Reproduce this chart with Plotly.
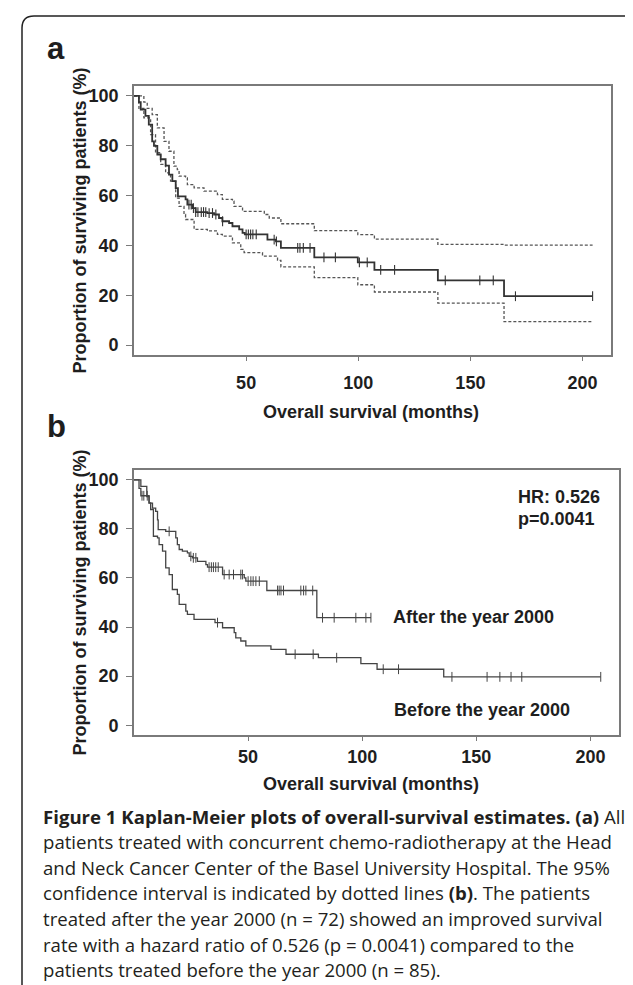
import numpy as np
import plotly.graph_objects as go

W, H = 633, 985

# ---------------- data: panel a (all patients, KM with 95% CI) ----------------
a_time = [0, 2.2, 3.0, 5.1, 6.6, 8.1, 8.9, 10.4, 11.9, 14.1, 15.6, 17.1, 18.6, 19.6, 23.0, 23.8, 26.0, 27.5,
          32.7, 35.7, 37.9, 39.4, 42.4, 43.9, 46.9, 48.4, 49.4, 59.5, 63.3, 65.5, 80.4, 99.8, 107.2, 135.5,
          165.0, 204.5]
a_surv = [100, 97.5, 94.5, 92.0, 88.5, 81.8, 80.0, 76.5, 74.6, 72.0, 68.4, 65.8, 63.0, 59.7, 58.5, 56.4, 55.0,
          53.4, 53.0, 52.4, 51.0, 49.7, 49.0, 47.7, 46.4, 45.0, 44.4, 42.3, 41.6, 39.0, 35.2, 33.2, 30.2, 26.0,
          19.6, 19.6]
a_up_time = [0, 4.4, 5.9, 8.1, 10.4, 13.4, 15.6, 17.8, 19.3, 20.1, 23.0, 23.8, 26.8, 31.2, 37.2, 39.4, 43.9,
             44.6, 48.4, 58.1, 60.3, 65.5, 80.4, 99.8, 107.2, 135.5, 165.0, 204.5]
a_up = [100, 97.5, 95.0, 92.5, 87.2, 81.8, 77.8, 71.8, 70.4, 67.8, 67.1, 64.4, 63.1, 61.8, 60.4, 58.5, 57.8,
        55.7, 53.7, 52.4, 51.0, 48.7, 45.9, 44.3, 42.5, 40.4, 40.1, 40.1]
a_lo_time = [0, 2.2, 4.4, 7.4, 9.6, 11.9, 14.1, 16.3, 18.6, 20.1, 22.3, 23.0, 26.8, 32.7, 37.2, 39.4, 43.9,
             47.6, 49.1, 57.3, 64.0, 65.5, 80.4, 99.8, 107.2, 135.5, 165.0, 204.5]
a_lo = [100, 95.0, 91.2, 84.5, 77.2, 72.5, 69.1, 65.8, 59.0, 55.7, 52.4, 50.4, 46.4, 45.8, 44.4, 43.7, 41.0,
        38.4, 37.1, 35.7, 34.0, 31.4, 27.1, 24.2, 21.3, 16.8, 9.4, 9.4]
a_censor = [24.5, 25.5, 26.5, 27.5, 28.5, 30.0, 31.0, 32.0, 33.5, 35.0, 36.5, 39.5, 50.0, 51.0, 52.0, 53.0,
            54.5, 62.5, 63.5, 73.0, 74.0, 75.5, 78.5, 84.7, 89.8, 100.5, 104.0, 110.0, 116.2, 138.8, 154.2,
            160.2, 170.1, 204.5]

# ---------------- data: panel b (before / after the year 2000) ----------------
b_after_time = [0, 3.0, 5.6, 6.6, 8.1, 9.5, 10.3, 10.6, 13.9, 18.3, 19.0, 19.8, 21.2, 23.4, 24.2, 25.6, 27.8,
                31.5, 32.2, 38.8, 48.3, 49.0, 58.2, 80.1, 103.8]
b_after = [100, 97.3, 93.2, 90.5, 88.5, 87.1, 83.7, 79.7, 79.0, 76.3, 73.6, 71.6, 70.9, 70.2, 68.8, 68.2, 66.8,
           65.4, 64.4, 61.4, 60.0, 58.7, 54.9, 43.8, 43.8]
b_after_censor = [15.4, 24.9, 26.0, 27.1, 32.9, 33.9, 34.8, 35.8, 36.9, 39.5, 41.7, 43.6, 46.8, 47.5, 50.0,
                  51.2, 52.2, 53.4, 54.9, 62.9, 63.6, 64.4, 65.5, 73.1, 74.3, 75.3, 78.3, 82.6, 87.7, 97.2,
                  101.6, 103.8]
b_before_time = [0, 2.2, 3.0, 6.6, 7.3, 8.5, 10.3, 11.0, 12.5, 13.9, 15.4, 16.8, 19.0, 19.8, 22.7, 23.4, 26.3,
                 35.5, 38.8, 43.9, 44.6, 46.8, 49.0, 60.0, 66.6, 80.8, 99.4, 106.5, 135.7, 204.5]
b_before = [100, 96.5, 93.5, 90.6, 87.9, 77.0, 76.3, 73.6, 70.9, 64.1, 61.4, 55.3, 53.3, 49.2, 46.5, 45.2, 43.1,
            41.8, 39.7, 37.7, 35.6, 34.3, 32.3, 30.9, 28.9, 27.5, 25.1, 22.8, 19.7, 19.7]
b_before_censor = [3.5, 4.3, 5.8, 36.6, 70.6, 78.5, 88.8, 109.2, 115.9, 139.3, 154.7, 160.3, 165.2, 169.9,
                   204.5]

y_ticks = [0, 20, 40, 60, 80, 100]
x_ticks = [50, 100, 150, 200]
x_title = "Overall survival (months)"
y_title = "Proportion of surviving patients (%)"
label_after = "After the year 2000"
label_before = "Before the year 2000"
stats_lines = ["HR: 0.526", "p=0.0041"]
caption_lines = [
    "<b>Figure 1 Kaplan-Meier plots of overall-survival estimates.</b> <b>(a)</b> All",
    "patients treated with concurrent chemo-radiotherapy at the Head",
    "and Neck Cancer Center of the Basel University Hospital. The 95%",
    "confidence interval is indicated by dotted lines <b>(b)</b>. The patients",
    "treated after the year 2000 (n = 72) showed an improved survival",
    "rate with a hazard ratio of 0.526 (p = 0.0041) compared to the",
    "patients treated before the year 2000 (n = 85).",
]


def step_at(times, surv, t):
    times = np.asarray(times)
    surv = np.asarray(surv)
    idx = np.searchsorted(times, np.asarray(t), side="right") - 1
    return surv[idx]


def fx(x):
    return x / W


def fy(y):
    return 1 - y / H


FRAME = "#7a7a7a"
INK = "#1e1e1e"
BOLD = dict(family="Liberation Sans, Arial, sans-serif", size=18, color=INK, weight="bold")

fig = go.Figure()

# panel a
for t, s in [(a_up_time, a_up), (a_lo_time, a_lo)]:
    fig.add_trace(go.Scatter(x=t, y=s, mode="lines",
                             line=dict(shape="hv", color="#555", width=1.3, dash="3px,2px"),
                             xaxis="x", yaxis="y", hoverinfo="skip"))
fig.add_trace(go.Scatter(x=a_time, y=a_surv, mode="lines", line=dict(shape="hv", color="#333", width=1.8),
                         xaxis="x", yaxis="y"))
fig.add_trace(go.Scatter(x=a_censor, y=step_at(a_time, a_surv, a_censor), mode="markers",
                         marker=dict(symbol="line-ns-open", size=7, color="#333",
                                     line=dict(color="#333", width=1.1)),
                         xaxis="x", yaxis="y"))

# panel b
for t, s, c in [(b_after_time, b_after, b_after_censor), (b_before_time, b_before, b_before_censor)]:
    fig.add_trace(go.Scatter(x=t, y=s, mode="lines", line=dict(shape="hv", color="#444", width=1.3),
                             xaxis="x2", yaxis="y2"))
    fig.add_trace(go.Scatter(x=c, y=step_at(t, s, c), mode="markers",
                             marker=dict(symbol="line-ns-open", size=7, color="#444",
                                         line=dict(color="#444", width=1.0)),
                             xaxis="x2", yaxis="y2"))

ax_common = dict(showline=True, linecolor=FRAME, linewidth=1.6, mirror=True, showgrid=False, zeroline=False,
                 ticks="outside", tickcolor=FRAME, tickwidth=1.3, tickfont=BOLD)

fig.update_layout(
    width=W, height=H, margin=dict(l=0, r=0, t=0, b=0),
    paper_bgcolor="white", plot_bgcolor="white", showlegend=False,
    xaxis=dict(domain=[fx(126), fx(603)], range=[0, 212.7], tickvals=x_ticks, ticklen=4,
               ticklabelstandoff=7, anchor="y", **ax_common),
    yaxis=dict(domain=[fy(347), fy(78)], range=[-4, 104], tickvals=y_ticks, ticklen=6,
               ticklabelstandoff=4, anchor="x", **ax_common),
    xaxis2=dict(domain=[fx(126), fx(611)], range=[0, 212.5], tickvals=x_ticks, ticklen=4,
                ticklabelstandoff=1, anchor="y2", **ax_common),
    yaxis2=dict(domain=[fy(727), fy(462)], range=[-4, 104], tickvals=y_ticks, ticklen=6,
                ticklabelstandoff=4, anchor="x2", **ax_common),
)

ann = []
# panel letters
ann.append(dict(text="a", x=fx(37), y=fy(40), xanchor="left", yanchor="middle",
                font=dict(family=BOLD["family"], size=31, color=INK, weight="bold")))
ann.append(dict(text="b", x=fx(37), y=fy(418), xanchor="left", yanchor="middle",
                font=dict(family=BOLD["family"], size=31, color=INK, weight="bold")))
# axis titles
for yc in (212.5, 594.5):
    ann.append(dict(text=y_title, x=fx(71), y=fy(yc), textangle=-90, xanchor="center", yanchor="middle", font=BOLD))
ann.append(dict(text=x_title, x=fx(363.5), y=fy(404), xanchor="center", yanchor="middle", font=BOLD))
ann.append(dict(text=x_title, x=fx(363.5), y=fy(776), xanchor="center", yanchor="middle", font=BOLD))
# panel b labels
ann.append(dict(text=stats_lines[0], x=fx(508), y=fy(489), xanchor="left", yanchor="middle", font=BOLD))
ann.append(dict(text=stats_lines[1], x=fx(508), y=fy(511), xanchor="left", yanchor="middle", font=BOLD))
ann.append(dict(text=label_after, x=fx(383), y=fy(609), xanchor="left", yanchor="middle", font=BOLD))
ann.append(dict(text=label_before, x=fx(383.5), y=fy(702), xanchor="left", yanchor="middle", font=BOLD))
# caption
for i, line in enumerate(caption_lines):
    ann.append(dict(text=line, x=fx(33), y=fy(808 + i * 25.6), xanchor="left", yanchor="middle",
                    font=dict(family="Open Sans, sans-serif", size=18.6, color="#231f20")))
for a in ann:
    a.update(xref="paper", yref="paper", showarrow=False)
fig.update_layout(annotations=ann)

# rounded outer border (top and left edges visible)
path = (f"M {fx(14)},{fy(985)} L {fx(14)},{fy(20)} Q {fx(14)},{fy(8)} {fx(26)},{fy(8)} L {fx(633)},{fy(8)}")
fig.add_shape(type="path", path=path, xref="paper", yref="paper", line=dict(color="#222", width=1.5))

fig.write_html("out.html")
